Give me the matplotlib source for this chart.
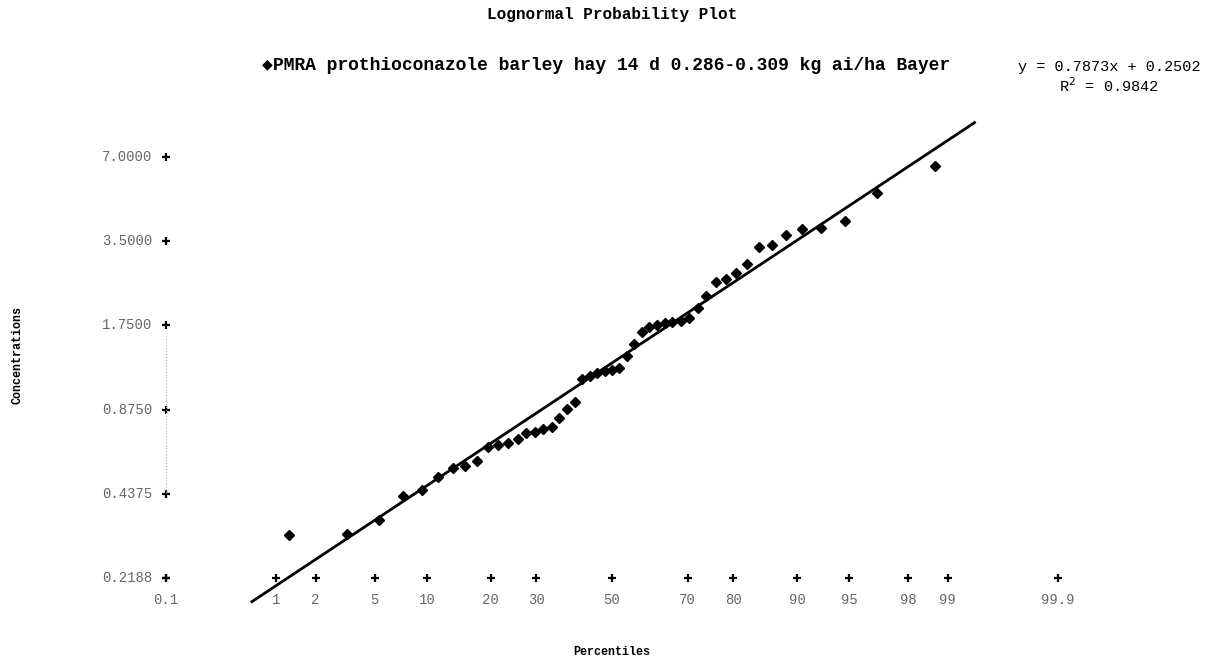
import numpy as np
from statistics import NormalDist
import matplotlib
matplotlib.use('Agg')
import matplotlib.pyplot as plt

# plotting positions (percent) and concentrations
pct = [1.27, 3.30, 5.33, 7.36, 9.39, 11.42, 13.45, 15.48, 17.51, 19.54,
       21.57, 23.60, 25.63, 27.66, 29.70, 31.73, 33.76, 35.79, 37.82, 39.85,
       41.88, 43.91, 45.94, 47.97, 50.00, 52.03, 54.06, 56.09, 58.12, 60.15,
       62.18, 64.21, 66.24, 68.27, 70.30, 72.34, 74.37, 76.40, 78.43, 80.46,
       82.49, 84.52, 86.55, 88.58, 90.61, 92.64, 94.67, 96.70, 98.73]
conc = [0.312, 0.314, 0.353, 0.430, 0.451, 0.502, 0.541, 0.550, 0.573, 0.643,
        0.654, 0.664, 0.687, 0.721, 0.728, 0.745, 0.758, 0.816, 0.879, 0.931,
        1.125, 1.154, 1.182, 1.202, 1.212, 1.232, 1.360, 1.501, 1.657, 1.727,
        1.755, 1.784, 1.799, 1.813, 1.859, 2.018, 2.228, 2.500, 2.563, 2.692,
        2.899, 3.334, 3.391, 3.681, 3.866, 3.900, 4.129, 5.201, 6.495]

slope = 0.7873
intercept = 0.2502
r2 = 0.9842
line_pct = [0.63, 99.40]

x_ticks = [0.1, 1, 2, 5, 10, 20, 30, 50, 70, 80, 90, 95, 98, 99, 99.9]
x_labels = ['0.1', '1', '2', '5', '10', '20', '30', '50', '70', '80', '90', '95', '98', '99', '99.9']
y_ticks = [0.21875, 0.4375, 0.875, 1.75, 3.5, 7.0]
y_labels = ['0.2188', '0.4375', '0.8750', '1.7500', '3.5000', '7.0000']

title = 'Lognormal Probability Plot'
series = 'PMRA prothioconazole barley hay 14 d 0.286-0.309 kg ai/ha Bayer'

nd = NormalDist()
def z(p):
    return nd.inv_cdf(p / 100.0)

W, H = 1220, 664
fig = plt.figure(figsize=(W / 100, H / 100), dpi=100)
# axes placed so that pixel mapping matches the scan
L, R, T, B = 150, 1100, 110, 620
ax = fig.add_axes([L / W, 1 - B / H, (R - L) / W, (B - T) / H])
ax.set_xlim(-3.2017, 3.3818)
ax.set_ylim(-1.8655, 2.3321)
ax.axis('off')

mono = ['Liberation Mono', 'DejaVu Sans Mono']
grey = '#666666'

xs = [z(p) for p in pct]
ys = np.log(conc)
ax.plot(xs, ys, 'D', color='black', ms=5.5, clip_on=False, zorder=3)

lx = np.array([z(p) for p in line_pct])
ax.plot(lx, slope * lx + intercept, color='black', lw=2.0, clip_on=False, zorder=2)

# fake axes: "+" markers with labels
x0 = z(x_ticks[0])
y0 = np.log(y_ticks[0])
ax.plot([x0] * len(y_ticks), np.log(y_ticks), '+', color='black', ms=6, mew=1.6, clip_on=False)
ax.plot([z(p) for p in x_ticks], [y0] * len(x_ticks), '+', color='black', ms=6, mew=1.6, clip_on=False)
ax.plot([x0, x0], [np.log(0.44), np.log(1.6)], ':', color='#aaaaaa', lw=0.8)

for v, lab in zip(y_ticks, y_labels):
    ax.annotate(lab, xy=(x0, np.log(v)), xytext=(-10, 0), textcoords='offset points',
                ha='right', va='center', fontsize=10, color=grey, family=mono)
for p, lab in zip(x_ticks, x_labels):
    ax.annotate(lab, xy=(z(p), y0), xytext=(0, -16), textcoords='offset points',
                ha='center', va='center', fontsize=10, color=grey, family=mono)

fig.text(612 / W, 1 - 14 / H, title, ha='center', va='center', fontsize=11.5,
         fontweight='bold', family=mono)
fig.text(606 / W, 1 - 65 / H, '\u25c6' + series, ha='center', va='center', fontsize=13,
         fontweight='bold', family=mono)
fig.text(1109 / W, 1 - 67 / H, 'y = %.4fx + %.4f' % (slope, intercept), ha='center',
         va='center', fontsize=11, family=mono)
fig.text(1109 / W, 1 - 86 / H, 'R$^2$ = %.4f' % r2, ha='center', va='center',
         fontsize=11, family=mono)
fig.text(18 / W, 1 - 355 / H, 'Concentrations', rotation=90, ha='center', va='center',
         fontsize=8.5, fontweight='bold', family=mono)
fig.text(612 / W, 1 - 652 / H, 'Percentiles', ha='center', va='center', fontsize=8.5,
         fontweight='bold', family=mono)

plt.savefig('out.png', dpi=100)
